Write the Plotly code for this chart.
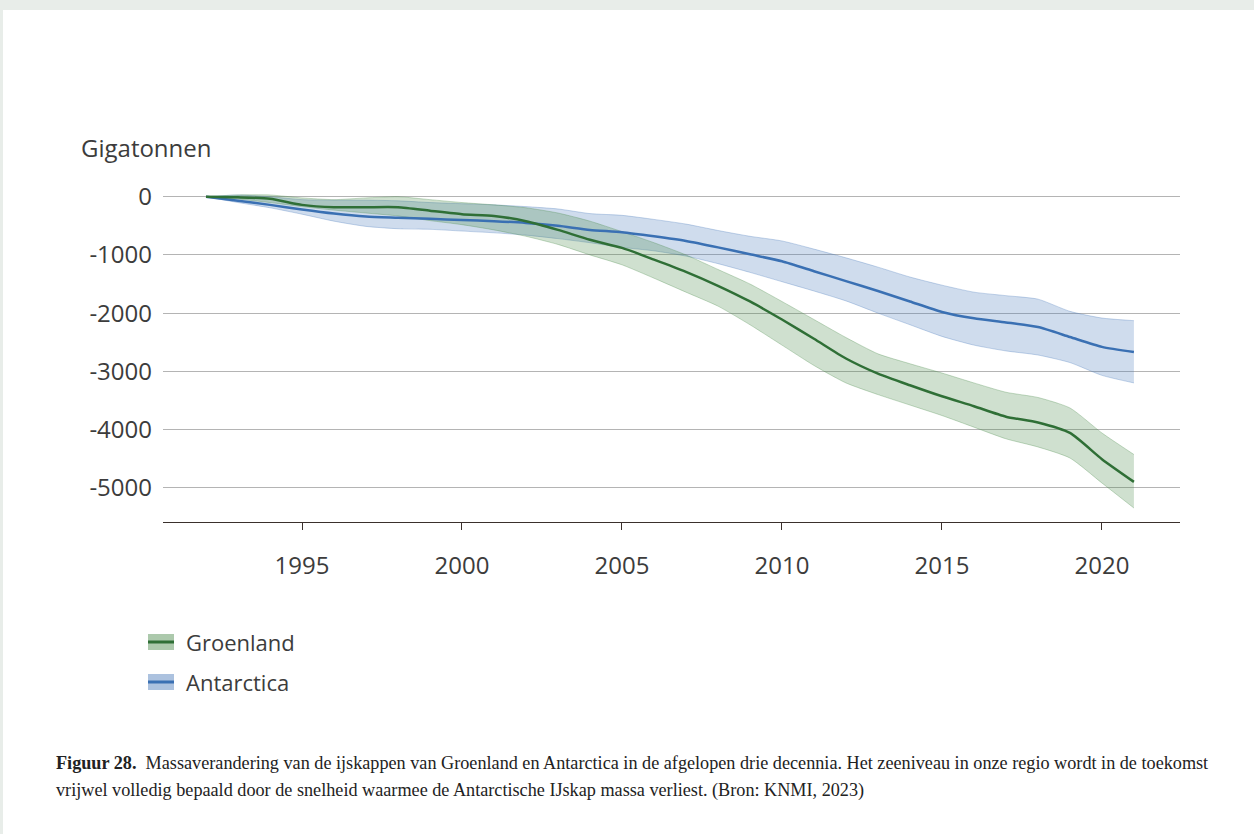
import plotly.graph_objects as go

years = list(range(1992, 2022))

groen_mid = [0, -10, -35, -140, -180, -180, -180, -240, -300, -330,
             -420, -570, -740, -880, -1080, -1290, -1530, -1800, -2110, -2440,
             -2780, -3040, -3240, -3430, -3600, -3780, -3880, -4060, -4510, -4900]
groen_hi = [0, 30, 30, -20, -50, -20, 0, -50, -100, -140,
            -190, -280, -420, -600, -790, -1000, -1250, -1500, -1800, -2110,
            -2420, -2700, -2870, -3030, -3200, -3360, -3450, -3630, -4060, -4430]
groen_lo = [0, -40, -100, -170, -230, -280, -330, -410, -480, -570,
            -680, -820, -1000, -1170, -1400, -1640, -1880, -2200, -2550, -2900,
            -3200, -3400, -3580, -3760, -3960, -4160, -4300, -4490, -4920, -5350]

ant_mid = [0, -70, -140, -220, -290, -340, -360, -380, -400, -420,
           -450, -500, -570, -610, -680, -760, -870, -990, -1110, -1280,
           -1450, -1620, -1800, -1980, -2090, -2160, -2240, -2410, -2580, -2670]
ant_hi = [0, 30, 0, -50, -60, -60, -70, -100, -120, -140,
          -170, -210, -290, -320, -390, -470, -580, -680, -760, -900,
          -1050, -1210, -1380, -1520, -1640, -1700, -1760, -1970, -2085, -2130]
ant_lo = [0, -100, -190, -300, -420, -510, -550, -560, -590, -620,
          -660, -720, -790, -870, -930, -1020, -1150, -1300, -1460, -1620,
          -1790, -2000, -2200, -2400, -2550, -2650, -2720, -2850, -3070, -3200]

y_ticks = [0, -1000, -2000, -3000, -4000, -5000]
x_ticks = [1995, 2000, 2005, 2010, 2015, 2020]

GREEN = '#2f6f36'
GREEN_FILL = 'rgba(70,135,70,0.26)'
GREEN_EDGE = 'rgba(70,135,70,0.30)'
BLUE = '#3a70b3'
BLUE_FILL = 'rgba(70,120,185,0.26)'
BLUE_EDGE = 'rgba(70,120,185,0.30)'
FONT = 'Open Sans'

# plot area in pixels
L, R, T, B = 163, 1180, 188, 522

def px(x):
    return (x - L) / (R - L)

def py(y):
    return (B - y) / (B - T)

fig = go.Figure()

for lo, hi, fill, edge in [(ant_lo, ant_hi, BLUE_FILL, BLUE_EDGE),
                           (groen_lo, groen_hi, GREEN_FILL, GREEN_EDGE)]:
    fig.add_trace(go.Scatter(x=years, y=lo, mode='lines',
                             line=dict(color=edge, width=1, shape='spline', smoothing=0.6),
                             showlegend=False, hoverinfo='skip'))
    fig.add_trace(go.Scatter(x=years, y=hi, mode='lines', fill='tonexty', fillcolor=fill,
                             line=dict(color=edge, width=1, shape='spline', smoothing=0.6),
                             showlegend=False, hoverinfo='skip'))

fig.add_trace(go.Scatter(x=years, y=ant_mid, mode='lines', name='Antarctica',
                         line=dict(color=BLUE, width=2.5, shape='spline', smoothing=0.6),
                         showlegend=False))
fig.add_trace(go.Scatter(x=years, y=groen_mid, mode='lines', name='Groenland',
                         line=dict(color=GREEN, width=2.5, shape='spline', smoothing=0.6),
                         showlegend=False))

fig.update_xaxes(range=[1990.656, 2022.44], tickvals=x_ticks, showgrid=False,
                 showline=True, linecolor='#3a302c', linewidth=1.2,
                 ticks='outside', ticklen=7, tickcolor='#3a302c',
                 ticklabelstandoff=15,
                 tickfont=dict(family=FONT, size=24, color='#3c3c3c'), zeroline=False)
fig.update_yaxes(range=[-5590, 150], tickvals=y_ticks,
                 ticktext=[str(v) for v in y_ticks],
                 showgrid=True, gridcolor='#b4b4b4', gridwidth=1, zeroline=False,
                 showline=False, ticks='', ticklabelstandoff=10,
                 tickfont=dict(family=FONT, size=24, color='#3c3c3c'))

shapes = [
    # page border strips
    dict(type='rect', xref='paper', yref='paper', x0=px(0), x1=px(1254), y0=py(10), y1=py(0),
         fillcolor='#e8ede9', line_width=0, layer='above'),
    dict(type='rect', xref='paper', yref='paper', x0=px(0), x1=px(3), y0=py(834), y1=py(0),
         fillcolor='#e8ede9', line_width=0, layer='above'),
]
annotations = [
    dict(text='Gigatonnen', xref='paper', yref='paper', x=px(79), y=py(147),
         xanchor='left', yanchor='middle', showarrow=False,
         font=dict(family=FONT, size=24, color='#3c3c3c')),
]

# legend drawn by hand: light band with a dark line through it
for name, cy, line_col, fill in [('Groenland', 642, GREEN, GREEN_FILL),
                                 ('Antarctica', 682, BLUE, BLUE_FILL)]:
    shapes.append(dict(type='rect', xref='paper', yref='paper', x0=px(148), x1=px(174),
                       y0=py(cy + 8), y1=py(cy - 8), fillcolor=fill.replace('0.26', '0.45'),
                       line_width=0))
    shapes.append(dict(type='line', xref='paper', yref='paper', x0=px(148), x1=px(174),
                       y0=py(cy), y1=py(cy), line=dict(color=line_col, width=3)))
    annotations.append(dict(text=name, xref='paper', yref='paper', x=px(184), y=py(cy),
                            xanchor='left', yanchor='middle', showarrow=False,
                            font=dict(family=FONT, size=22, color='#3c3c3c')))

cap1 = ('<b>Figuur 28.</b>\u00a0 Massaverandering van de ijskappen van Groenland en Antarctica '
        'in de afgelopen drie decennia. Het zeeniveau in onze regio wordt in de toekomst')
cap2 = ('vrijwel volledig bepaald door de snelheid waarmee de Antarctische IJskap massa '
        'verliest. (Bron: KNMI, 2023)')
for txt, cy in [(cap1, 763), (cap2, 790)]:
    annotations.append(dict(text=txt, xref='paper', yref='paper', x=px(54), y=py(cy),
                            xanchor='left', yanchor='middle', showarrow=False,
                            font=dict(family='Liberation Serif', size=18.2, color='#222222')))

fig.update_layout(width=1254, height=834, margin=dict(l=L, r=1254 - R, t=T, b=834 - B),
                  paper_bgcolor='white', plot_bgcolor='white',
                  shapes=shapes, annotations=annotations, font_family=FONT)

fig.write_html("out.html", config={'displayModeBar': False},
               post_script="document.body.style.margin='0';")
